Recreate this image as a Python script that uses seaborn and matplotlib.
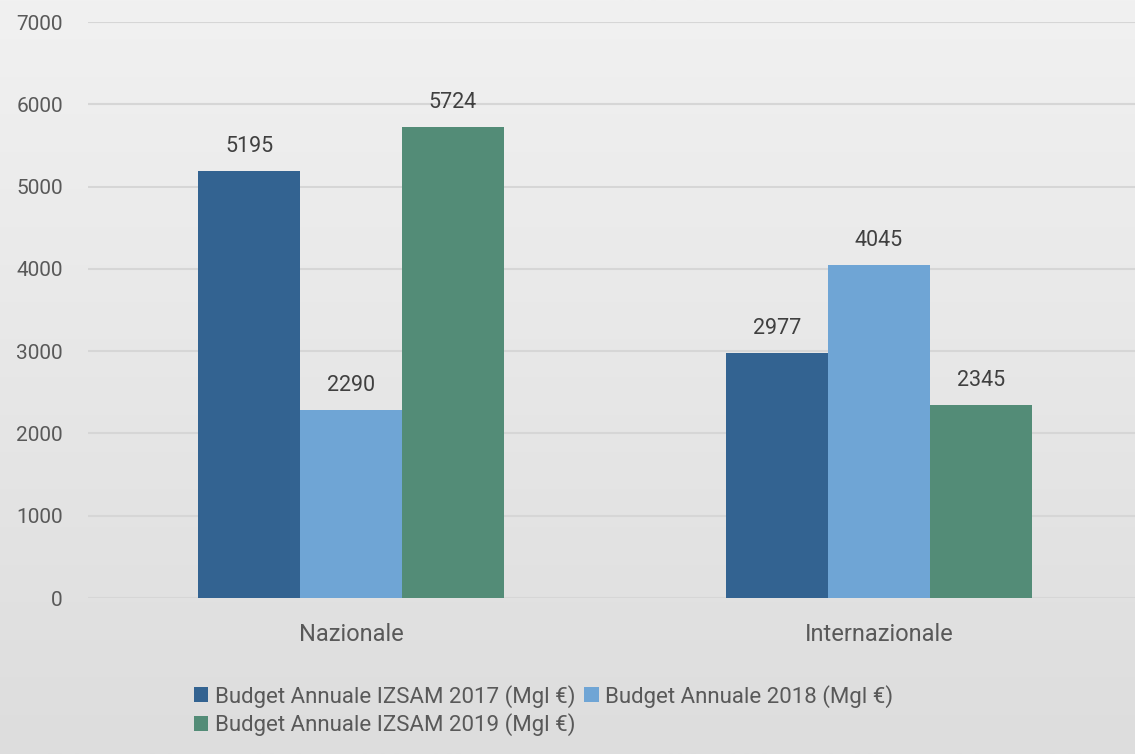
import numpy as np
import pandas as pd
import matplotlib
matplotlib.use("Agg")
import matplotlib.pyplot as plt
import seaborn as sns

# ── dati ──
CATEGORIE = ["Nazionale", "Internazionale"]
SERIE = [
    "Budget Annuale IZSAM 2017 (Mgl €)",
    "Budget Annuale 2018 (Mgl €)",
    "Budget Annuale IZSAM 2019 (Mgl €)",
]
VAL_2017 = [5195, 2977]
VAL_2018 = [2290, 4045]
VAL_2019 = [5724, 2345]
COLORI = ["#336391", "#6fa5d5", "#538c77"]
Y_TICKS = [0, 1000, 2000, 3000, 4000, 5000, 6000, 7000]

df = pd.DataFrame({
    "area": CATEGORIE * 3,
    "serie": [SERIE[0]] * 2 + [SERIE[1]] * 2 + [SERIE[2]] * 2,
    "budget": VAL_2017 + VAL_2018 + VAL_2019,
})

sns.set_theme(style="white")
plt.rcParams["font.family"] = ["Roboto", "DejaVu Sans"]

fig = plt.figure(figsize=(11.35, 7.54), dpi=100)

# sfondo grigio sfumato
bg = fig.add_axes([0, 0, 1, 1], zorder=-10)
grad = np.linspace(0, 1, 256).reshape(-1, 1)
bg.imshow(grad, aspect="auto", cmap=matplotlib.colors.LinearSegmentedColormap.from_list(
    "bg", ["#f1f1f1", "#dddddd"]), extent=[0, 1, 0, 1])
bg.axis("off")

ax = fig.add_axes([88 / 1135, 1 - 598 / 754, 1 - 88 / 1135, (598 - 22) / 754])
ax.patch.set_alpha(0)

sns.barplot(data=df, x="area", y="budget", hue="serie", palette=COLORI,
            width=0.578, gap=0, saturation=1, linewidth=0, ax=ax, legend=True)

for cont in ax.containers:
    ax.bar_label(cont, padding=10, fontsize=15.5, color="#404040")

ax.set_ylim(0, 7000)
ax.set_xlim(-0.498, 1.485)
ax.set_yticks(Y_TICKS)
ax.yaxis.grid(True, color="#d6d6d6", linewidth=1.5)
ax.set_axisbelow(True)
for s in ax.spines.values():
    s.set_visible(False)
ax.tick_params(axis="y", length=0, pad=18, labelsize=15, labelcolor="#595959")
ax.tick_params(axis="x", length=0, pad=18, labelsize=17, labelcolor="#595959")
ax.set_xlabel("")
ax.set_ylabel("")

handles, labels = ax.get_legend_handles_labels()
ax.get_legend().remove()
order = [0, 2, 1]
fig.legend([handles[i] for i in order], [labels[i] for i in order],
           loc="upper left", bbox_to_anchor=(178 / 1135, 1 - 669 / 754),
           ncol=2, frameon=False, fontsize=16, labelcolor="#595959",
           handlelength=0.65, handleheight=0.65, handletextpad=0.3,
           columnspacing=0.4, labelspacing=0.25, borderpad=0.2)

fig.savefig("out.png", dpi=100)
